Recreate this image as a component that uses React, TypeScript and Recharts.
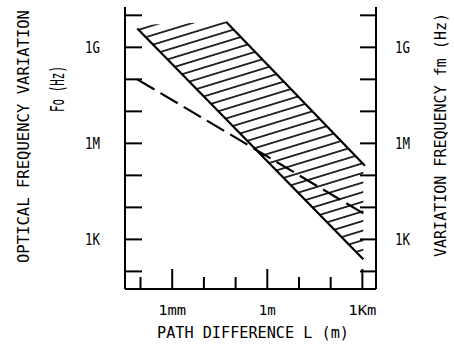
import React from 'react';
import { ComposedChart, Line, Area, XAxis, YAxis } from 'recharts';

// Path difference L (m) and frequency (Hz)
const lowerL = [7.9e-5, 1070];
const lowerF = [3.9e9, 240];
const upperL = [0.05, 1200];
const upperF = [6.3e9, 2.0e5];
const dashL = [7.9e-5, 1070];
const dashF = [1.0e8, 6500];
const bandL = [7.9e-5, 0.05, 1070];
const bandLow = [3.9e9, 5.75e6, 240];
const bandHigh = [5.0e9, 6.3e9, 2.24e5];

const xTicks = [1e-4, 1e-3, 1e-2, 1e-1, 1, 10, 100, 1000];
const xTickLabels = ['', '1mm', '', '', '1m', '', '', '1Km'];
const yTicks = [1e2, 1e3, 1e4, 1e5, 1e6, 1e7, 1e8, 1e9, 1e10];
const yTickLabels = ['', '1K', '', '', '1M', '', '', '1G', ''];

const allL = Array.from(new Set([...lowerL, ...upperL, ...dashL, ...bandL])).sort((a, b) => a - b);
const rows = allL.map((L) => {
  const r: any = { L };
  const i1 = lowerL.indexOf(L);
  if (i1 >= 0) r.lower = lowerF[i1];
  const i2 = upperL.indexOf(L);
  if (i2 >= 0) r.upper = upperF[i2];
  const i3 = dashL.indexOf(L);
  if (i3 >= 0) r.dash = dashF[i3];
  const i4 = bandL.indexOf(L);
  if (i4 >= 0) r.band = [bandLow[i4], bandHigh[i4]];
  return r;
});

const FONT = '"DejaVu Sans Mono", monospace';
const W = 454;
const H = 346;

const labelWidth = (s: string) => (s.length === 2 ? (s === '1m' ? 17 : 15) : 28);

const LeftTick = (p: any) => {
  const { x, y, index } = p;
  const lab = yTickLabels[index];
  return (
    <g>
      <line x1={x} y1={y} x2={x + 17} y2={y} stroke="#000" strokeWidth={2} />
      {lab ? (
        <text x={x - 25} y={y + 6} textAnchor="end" fontFamily={FONT} fontSize={16} fill="#000"
          textLength={labelWidth(lab)} lengthAdjust="spacingAndGlyphs">{lab}</text>
      ) : null}
    </g>
  );
};

const RightTick = (p: any) => {
  const { x, y, index } = p;
  const lab = yTickLabels[index];
  return (
    <g>
      <line x1={x} y1={y} x2={x - 16} y2={y} stroke="#000" strokeWidth={2} />
      {lab ? (
        <text x={x + 19} y={y + 6} textAnchor="start" fontFamily={FONT} fontSize={16} fill="#000"
          textLength={labelWidth(lab)} lengthAdjust="spacingAndGlyphs">{lab}</text>
      ) : null}
    </g>
  );
};

const BottomTick = (p: any) => {
  const { x, y, index } = p;
  const lab = xTickLabels[index];
  const len = lab ? 20 : 12;
  return (
    <g>
      <line x1={x} y1={y} x2={x} y2={y - len} stroke="#000" strokeWidth={2} />
      {lab ? (
        <text x={x} y={y + 26} textAnchor="middle" fontFamily={FONT} fontSize={14} fill="#000"
          textLength={labelWidth(lab)} lengthAdjust="spacingAndGlyphs">{lab}</text>
      ) : null}
    </g>
  );
};

export default function App() {
  return (
    <div style={{ position: 'absolute', left: 0, top: 0, width: W, height: H, background: '#fff' }}>
      <ComposedChart width={W} height={H} data={rows} margin={{ top: 7, right: 77, bottom: 56, left: 124 }}>
        <defs>
          <pattern id="hatch" patternUnits="userSpaceOnUse" width="12" height="9.2" patternTransform="rotate(-17)">
            <line x1="0" y1="4.6" x2="12" y2="4.6" stroke="#000" strokeWidth="1.6" />
          </pattern>
        </defs>
        <XAxis dataKey="L" type="number" scale="log" domain={[3.24e-5, 2690]} allowDataOverflow
          ticks={xTicks} height={1} tickSize={0} tickMargin={0} tick={BottomTick}
          axisLine={{ stroke: '#000', strokeWidth: 2 }} tickLine={false} interval={0} />
        <YAxis yAxisId="left" type="number" scale="log" domain={[28.2, 1.82e10]} allowDataOverflow
          ticks={yTicks} width={1} tickSize={0} tickMargin={0} tick={LeftTick}
          axisLine={{ stroke: '#000', strokeWidth: 2 }} tickLine={false} interval={0} />
        <YAxis yAxisId="right" orientation="right" type="number" scale="log" domain={[28.2, 1.82e10]} allowDataOverflow
          ticks={yTicks} width={1} tickSize={0} tickMargin={0} tick={RightTick}
          axisLine={{ stroke: '#000', strokeWidth: 2 }} tickLine={false} interval={0} />
        <Area yAxisId="left" dataKey="band" type="linear" stroke="none" fill="url(#hatch)" fillOpacity={1}
          isAnimationActive={false} dot={false} activeDot={false} />
        <Line yAxisId="left" dataKey="lower" type="linear" stroke="#000" strokeWidth={2.2} dot={false}
          connectNulls isAnimationActive={false} />
        <Line yAxisId="left" dataKey="upper" type="linear" stroke="#000" strokeWidth={2.2} dot={false}
          connectNulls isAnimationActive={false} />
        <Line yAxisId="left" dataKey="dash" type="linear" stroke="#000" strokeWidth={2.2} strokeDasharray="20 7"
          dot={false} connectNulls isAnimationActive={false} />
        <text x={24} y={136.5} transform="rotate(-90 24 136.5)" textAnchor="middle" dominantBaseline="central"
          fontFamily={FONT} fontSize={15} fill="#000" textLength={253} lengthAdjust="spacingAndGlyphs">
          OPTICAL FREQUENCY VARIATION
        </text>
        <text x={57} y={89} transform="rotate(-90 57 89)" textAnchor="middle" dominantBaseline="central"
          fontFamily={FONT} fontSize={19} fill="#000" textLength={46} lengthAdjust="spacingAndGlyphs">
          Fo (Hz)
        </text>
        <text x={441} y={135} transform="rotate(-90 441 135)" textAnchor="middle" dominantBaseline="central"
          fontFamily={FONT} fontSize={15} fill="#000" textLength={244} lengthAdjust="spacingAndGlyphs">
          VARIATION FREQUENCY fm (Hz)
        </text>
        <text x={253} y={338} textAnchor="middle" fontFamily={FONT} fontSize={15} fill="#000"
          textLength={192} lengthAdjust="spacingAndGlyphs">
          PATH DIFFERENCE L (m)
        </text>
      </ComposedChart>
    </div>
  );
}
